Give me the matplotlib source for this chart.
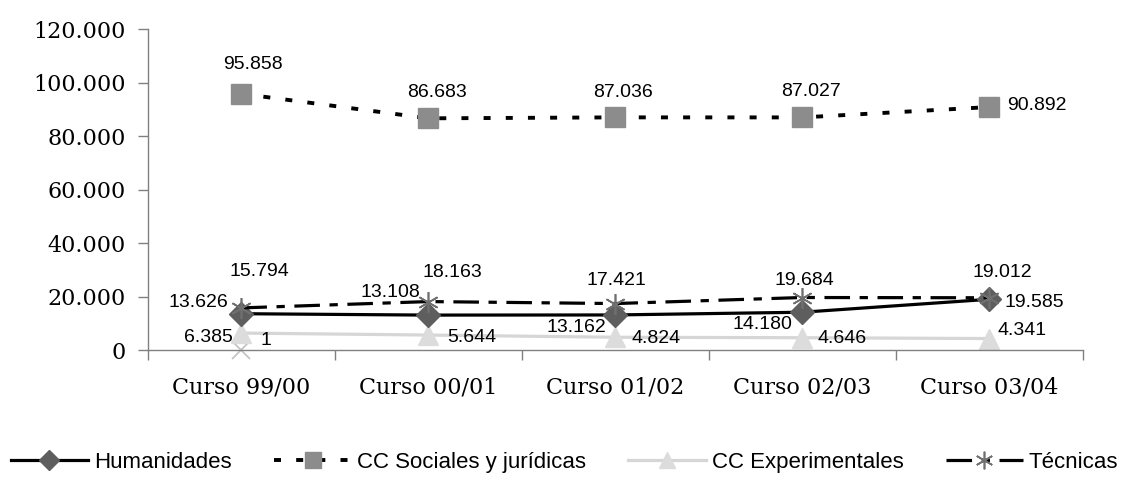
import matplotlib
matplotlib.use("Agg")
import matplotlib.pyplot as plt
import numpy as np

cursos = ["Curso 99/00", "Curso 00/01", "Curso 01/02", "Curso 02/03", "Curso 03/04"]
humanidades = [13626, 13108, 13162, 14180, 19012]
sociales = [95858, 86683, 87036, 87027, 90892]
experimentales = [6385, 5644, 4824, 4646, 4341]
tecnicas = [15794, 18163, 17421, 19684, 19585]
extra = [1]  # punto suelto en el curso 99/00

def fmt(v):
    return f"{v:,}".replace(",", ".")

x = np.arange(len(cursos))

fig = plt.figure(figsize=(11.29, 4.79), dpi=100)
ax = fig.add_axes([0.131, 0.269, 0.828, 0.670])

ax.plot(x, humanidades, color="black", lw=2.3, marker="D", ms=12,
        mfc="#5e5e5e", mec="#5e5e5e", label="Humanidades", zorder=4)
ax.plot(x, sociales, color="black", lw=2.8, dashes=(1.8, 3.9), marker="s", ms=14,
        mfc="#8c8c8c", mec="#8c8c8c", label="CC Sociales y jurídicas", zorder=3)
ax.plot(x, experimentales, color="#d6d6d6", lw=2.3, marker="^", ms=14,
        mfc="#dcdcdc", mec="#dcdcdc", label="CC Experimentales", zorder=2)
ax.plot(x, tecnicas, color="black", lw=2.3, dashes=(8, 3, 2.6, 3), marker=(6, 2, 0), ms=15,
        mfc="#707070", mec="#707070", mew=1.2, label="Técnicas", zorder=5)
ax.plot(x[:1], extra, ls="none", marker="x", ms=13, mec="#c4c4c4", mew=1.3, zorder=1)

# desplazamientos de etiquetas en píxeles (dx, dy, alineación)
off_hum = [(-13, 11, "right"), (-8, 23, "right"), (-9, -13, "right"), (-10, -12, "right"), (13, 27, "center")]
off_soc = [(12, 29, "center"), (9, 26, "center"), (8, 25, "center"), (9, 26, "center"), (18, 2, "left")]
off_exp = [(-9, -4, "right"), (19, -2, "left"), (16, -1, "left"), (15, -1, "left"), (8, 8, "left")]
off_tec = [(18, 36, "center"), (24, 29, "center"), (1, 23, "center"), (2, 17, "center"), (15, -5, "left")]

for serie, offs in [(humanidades, off_hum), (sociales, off_soc),
                    (experimentales, off_exp), (tecnicas, off_tec)]:
    for xi, v, (dx, dy, ha) in zip(x, serie, offs):
        ax.annotate(fmt(v), (xi, v), xytext=(dx, dy), textcoords="offset pixels",
                    ha=ha, va="center", fontsize=14, family="Liberation Sans", zorder=6)
ax.annotate(fmt(extra[0]), (x[0], extra[0]), xytext=(19, 10), textcoords="offset pixels",
            ha="left", va="center", fontsize=14, family="Liberation Sans")

ax.set_xlim(-0.5, len(cursos) - 0.5)
ax.set_ylim(0, 120000)
ax.set_yticks(np.arange(0, 120001, 20000))
ax.set_yticklabels([fmt(v) for v in range(0, 120001, 20000)],
                   family="DejaVu Serif", fontsize=16)
ax.set_xticks(x)
ax.set_xticklabels(cursos, family="DejaVu Serif", fontsize=16)
ax.set_xticks(np.arange(-0.5, len(cursos)), minor=True)
ax.tick_params(axis="x", which="major", length=0, pad=19)
ax.tick_params(axis="x", which="minor", length=7, width=1, color="#808080")
ax.tick_params(axis="y", length=7, width=1, color="#808080", pad=9)

for s in ["top", "right"]:
    ax.spines[s].set_visible(False)
for s in ["left", "bottom"]:
    ax.spines[s].set_color("#808080")
    ax.spines[s].set_linewidth(1)
for ln in ax.lines:
    ln.set_clip_on(False)

fig.legend(loc="center", bbox_to_anchor=(0.5, 0.035), ncol=4, frameon=False,
           prop={"family": "Liberation Sans", "size": 16}, handlelength=3.5,
           handletextpad=0.25, columnspacing=1.9, numpoints=1, borderpad=0.1,
           markerscale=0.85)

fig.savefig("out.png", dpi=100)
